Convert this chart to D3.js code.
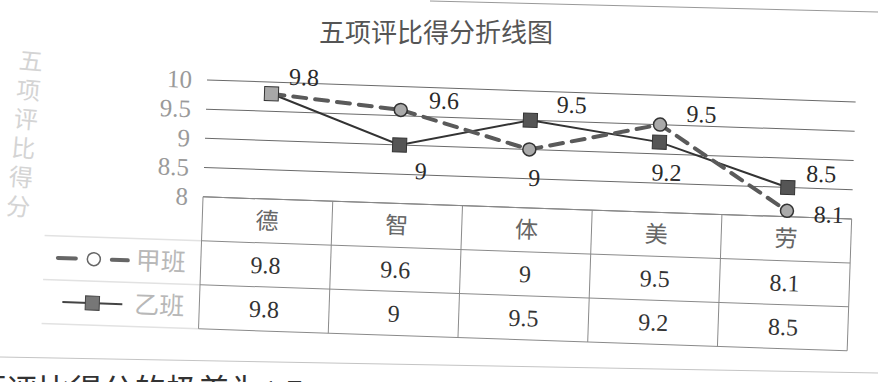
<!DOCTYPE html>
<html>
<head>
<meta charset="utf-8">
<script src="https://cdn.jsdelivr.net/npm/d3@7"></script>
<style>
  body { margin: 0; background: #fff; }
  svg { display: block; }
</style>
</head>
<body>
<svg id="chart" width="878" height="382"></svg>
<script>
// data
const categories = ["德", "智", "体", "美", "劳"];
const seriesNames = ["甲班", "乙班"];
const classA = [9.8, 9.6, 9, 9.5, 8.1];
const classB = [9.8, 9, 9.5, 9.2, 8.5];
const yTicks = [8, 8.5, 9, 9.5, 10];
const yTickLabels = ["8", "8.5", "9", "9.5", "10"];
const chartTitle = "五项评比得分折线图";
const axisTitle = "五项评比得分";
const footText = "项评比得分的极差为1.7";

const SERIF = "'Liberation Serif', 'Noto Sans CJK SC', serif";
const CJK = "'Noto Sans CJK SC', sans-serif";

const svg = d3.select("#chart");

// the scanned page is tilted a little, so the plot is drawn in a rotated group
const page = svg.append("g").attr("transform", "rotate(1.95,210,80)");

const x = d3.scaleBand().domain(categories).range([207, 856]);
const y = d3.scaleLinear().domain([8, 10]).range([197, 80]);
const rows = d3.scaleBand().domain(["head"].concat(seriesNames)).range([197, 329]);
const cx = d => x(d) + x.bandwidth() / 2;

// gridlines
page.append("g")
  .selectAll("line")
  .data(yTicks)
  .join("line")
  .attr("x1", 207)
  .attr("x2", 856)
  .attr("y1", d => y(d))
  .attr("y2", d => y(d))
  .attr("stroke", "#6a6a6a")
  .attr("stroke-width", 1);

// y tick labels through an axis
const yAxis = d3.axisLeft(y)
  .tickValues(yTicks)
  .tickFormat((d, i) => yTickLabels[i])
  .tickSize(0)
  .tickPadding(0);
page.append("g")
  .attr("transform", "translate(192,0)")
  .call(yAxis)
  .call(g => g.select(".domain").remove())
  .selectAll("text")
  .style("font-family", SERIF)
  .style("font-size", "25px")
  .attr("fill", "#9a9a9a");

// data table
const table = page.append("g");
const rowLines = [rows("head"), rows("甲班"), rows("乙班"), rows("乙班") + rows.bandwidth()];
table.selectAll("line.h")
  .data(rowLines)
  .join("line")
  .attr("class", "h")
  .attr("x1", 207)
  .attr("x2", 856)
  .attr("y1", d => d)
  .attr("y2", d => d)
  .attr("stroke", "#8a8a8a");
table.selectAll("line.hl")
  .data(rowLines.slice(1))
  .join("line")
  .attr("class", "hl")
  .attr("x1", 50)
  .attr("x2", 207)
  .attr("y1", d => d)
  .attr("y2", d => d)
  .attr("stroke", "#e2e2e2")
  .attr("stroke-width", 1.5);
table.selectAll("line.v")
  .data(categories.map(c => x(c)).concat([x.range()[1]]))
  .join("line")
  .attr("class", "v")
  .attr("x1", d => d)
  .attr("x2", d => d)
  .attr("y1", rows("head"))
  .attr("y2", rows("乙班") + rows.bandwidth())
  .attr("stroke", "#8a8a8a");

table.selectAll("text.head")
  .data(categories)
  .join("text")
  .attr("class", "head")
  .attr("x", d => cx(d))
  .attr("y", rows("head") + rows.bandwidth() / 2)
  .attr("dy", "0.35em")
  .attr("text-anchor", "middle")
  .style("font-family", CJK)
  .style("font-size", "23px")
  .attr("fill", "#666")
  .text(d => d);

[classA, classB].forEach((vals, s) => {
  table.append("g")
    .selectAll("text")
    .data(vals)
    .join("text")
    .attr("x", (d, i) => cx(categories[i]))
    .attr("y", rows(seriesNames[s]) + rows.bandwidth() / 2)
    .attr("dy", "0.35em")
    .attr("text-anchor", "middle")
    .style("font-family", SERIF)
    .style("font-size", "24px")
    .attr("fill", "#333")
    .text(d => d);
});

// legend keys in the table
const legA = table.append("g").attr("transform", `translate(0,${rows("甲班") + rows.bandwidth() / 2})`);
[[64, 82], [118, 134]].forEach(([a, b]) => {
  legA.append("line").attr("x1", a).attr("x2", b)
    .attr("stroke", "#666").attr("stroke-width", 4).attr("stroke-linecap", "round");
});
legA.append("circle").attr("cx", 100).attr("r", 6.5)
  .attr("fill", "#fff").attr("stroke", "#666").attr("stroke-width", 1.5);
legA.append("text").attr("x", 142).attr("dy", "0.35em")
  .style("font-family", CJK).style("font-size", "25px").attr("fill", "#b8b8b8")
  .text(seriesNames[0]);

const legB = table.append("g").attr("transform", `translate(0,${rows("乙班") + rows.bandwidth() / 2})`);
legB.append("line").attr("x1", 70).attr("x2", 130).attr("stroke", "#444").attr("stroke-width", 2);
legB.append("rect").attr("x", 93).attr("y", -7).attr("width", 14).attr("height", 14)
  .attr("fill", "#777").attr("stroke", "#444");
legB.append("text").attr("x", 142).attr("dy", "0.35em")
  .style("font-family", CJK).style("font-size", "25px").attr("fill", "#b8b8b8")
  .text(seriesNames[1]);

// lines
const line = d3.line().x((d, i) => cx(categories[i])).y(d => y(d));
page.append("path")
  .datum(classB)
  .attr("d", line)
  .attr("fill", "none")
  .attr("stroke", "#333")
  .attr("stroke-width", 2);
page.append("path")
  .datum(classA)
  .attr("d", line)
  .attr("fill", "none")
  .attr("stroke", "#5a5a5a")
  .attr("stroke-width", 4)
  .attr("stroke-dasharray", "13,9")
  .attr("stroke-linecap", "round");

page.append("g")
  .selectAll("rect")
  .data(classB)
  .join("rect")
  .attr("x", (d, i) => cx(categories[i]) - 7)
  .attr("y", d => y(d) - 7)
  .attr("width", 14)
  .attr("height", 14)
  .attr("fill", (d, i) => (i === 0 ? "#a8a8a8" : "#555"))
  .attr("stroke", "#333");
page.append("g")
  .selectAll("circle")
  .data(classA)
  .join("circle")
  .attr("cx", (d, i) => cx(categories[i]))
  .attr("cy", d => y(d))
  .attr("r", 6.5)
  .attr("fill", "#aaa")
  .attr("stroke", "#333")
  .attr("stroke-width", 1.5)
  .attr("visibility", (d, i) => (i === 0 ? "hidden" : "visible"));

// data labels, placed by hand as in the scan
const labelOffA = [[32, -18], [43, -11], [6, 28], [41, -12], [42, 2]];
const labelOffB = [null, [22, 25], [41, -17], [8, 30], [33, -15]];
[[classA, labelOffA], [classB, labelOffB]].forEach(([vals, offs]) => {
  page.append("g")
    .selectAll("text")
    .data(vals.map((v, i) => ({ v, i, off: offs[i] })).filter(d => d.off))
    .join("text")
    .attr("x", d => cx(categories[d.i]) + d.off[0])
    .attr("y", d => y(d.v) + d.off[1])
    .attr("dy", "0.35em")
    .attr("text-anchor", "middle")
    .style("font-family", SERIF)
    .style("font-size", "24px")
    .attr("fill", "#2a2a2a")
    .text(d => d.v);
});

// title
svg.append("text")
  .attr("x", 436)
  .attr("y", 33)
  .attr("dy", "0.35em")
  .attr("text-anchor", "middle")
  .style("font-family", CJK)
  .style("font-size", "26px")
  .attr("fill", "#555")
  .text(chartTitle);

// faint vertical axis title
const yTitle = svg.append("g").attr("transform", "rotate(5,32,50)");
const charY = d3.scaleBand().domain(d3.range(axisTitle.length)).range([47, 222]);
yTitle.selectAll("text")
  .data(axisTitle.split(""))
  .join("text")
  .attr("x", 32)
  .attr("y", (d, i) => charY(i) + charY.bandwidth() / 2)
  .attr("dy", "0.35em")
  .attr("text-anchor", "middle")
  .style("font-family", CJK)
  .style("font-size", "24px")
  .attr("fill", "#d4d4d4")
  .text(d => d);

// page edges from the scan
svg.append("line").attr("x1", 430).attr("y1", 1).attr("x2", 878).attr("y2", 12)
  .attr("stroke", "#999");
svg.append("line").attr("x1", 0).attr("y1", 357).attr("x2", 878).attr("y2", 373)
  .attr("stroke", "#c4c4c4");

// sentence cut off at the bottom of the scanned page
svg.append("text")
  .attr("x", -26)
  .attr("y", 402)
  .style("font-family", SERIF)
  .style("font-size", "32px")
  .attr("fill", "#333")
  .text(footText);
</script>
</body>
</html>
